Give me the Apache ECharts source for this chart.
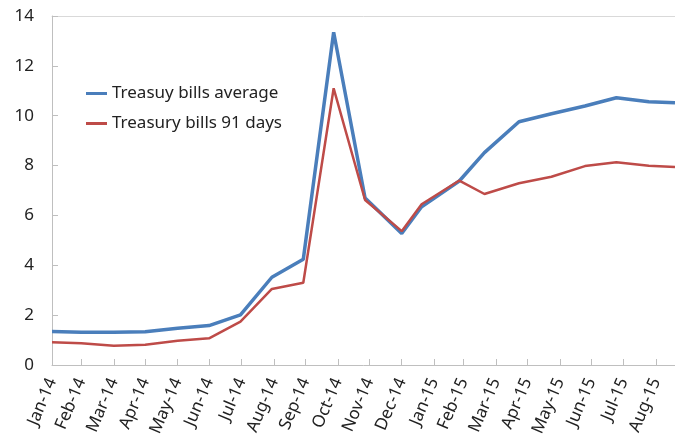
<!DOCTYPE html>
<html>
<head>
<meta charset="utf-8">
<script src="https://cdn.jsdelivr.net/npm/echarts@6/dist/echarts.min.js"></script>
<style>
  html, body { margin: 0; padding: 0; background: #fff; }
  #main { width: 675px; height: 444px; }
</style>
</head>
<body>
<div id="main"></div>
<script>
// month-end ticks, labelled with their own month
const tickDates = ['2014-01-31', '2014-02-28', '2014-03-31', '2014-04-30', '2014-05-31', '2014-06-30',
  '2014-07-31', '2014-08-31', '2014-09-30', '2014-10-31', '2014-11-30', '2014-12-31',
  '2015-01-31', '2015-02-28', '2015-03-31', '2015-04-30', '2015-05-31', '2015-06-30',
  '2015-07-31', '2015-08-31'];
const tickLabels = ['Jan-14', 'Feb-14', 'Mar-14', 'Apr-14', 'May-14', 'Jun-14', 'Jul-14', 'Aug-14',
  'Sep-14', 'Oct-14', 'Nov-14', 'Dec-14', 'Jan-15', 'Feb-15', 'Mar-15', 'Apr-15', 'May-15',
  'Jun-15', 'Jul-15', 'Aug-15'];

const pointDates = ['2014-01-31', '2014-02-28', '2014-03-31', '2014-04-30', '2014-05-31', '2014-06-30',
  '2014-07-30', '2014-08-29', '2014-09-28', '2014-10-27', '2014-11-26', '2014-12-31',
  '2015-01-19', '2015-02-24', '2015-03-20', '2015-04-22', '2015-05-23', '2015-06-24',
  '2015-07-24', '2015-08-24', '2015-09-18'];
const billsAverage = [1.34, 1.31, 1.31, 1.33, 1.47, 1.58, 2.01, 3.52, 4.24, 13.35, 6.70, 5.28,
  6.35, 7.38, 8.52, 9.76, 10.08, 10.39, 10.72, 10.56, 10.52];
const bills91 = [0.91, 0.87, 0.77, 0.81, 0.97, 1.07, 1.74, 3.05, 3.30, 11.10, 6.62, 5.37,
  6.45, 7.40, 6.86, 7.29, 7.55, 7.98, 8.13, 7.99, 7.94];

const axisStart = '2014-01-31';
const axisEnd = '2015-09-18';

// days since the first tick
function toDay(s) {
  return Math.round((Date.parse(s + 'T00:00:00Z') - Date.parse(axisStart + 'T00:00:00Z')) / 864e5);
}

const tickDays = tickDates.map(toDay);
const font = '"Noto Sans", "DejaVu Sans", sans-serif';
const axisGray = '#bfbfbf';

let chartDom = document.getElementById('main');
let myChart = echarts.init(chartDom);
let option = {
  animation: false,
  color: ['#4A7EBB', '#BE4B48'],
  grid: {left: 52, right: 0, top: 16, bottom: 79},
  legend: {
    orient: 'vertical',
    left: 81,
    top: 80,
    itemGap: 13,
    icon: 'rect',
    itemWidth: 21,
    itemHeight: 3,
    textStyle: {fontFamily: font, fontSize: 17, color: '#222'},
  },
  xAxis: [
    {
      type: 'value',
      min: 0,
      max: toDay(axisEnd),
      axisLine: {show: true, lineStyle: {color: axisGray, width: 1}},
      axisTick: {show: true, inside: true, length: 6, customValues: tickDays, lineStyle: {color: axisGray}},
      splitLine: {show: false},
      axisLabel: {
        customValues: tickDays,
        rotate: 67,
        margin: 14,
        fontFamily: font,
        fontSize: 17,
        color: '#222',
        formatter: function (val) {
          return tickLabels[tickDays.indexOf(Math.round(val))] || '';
        },
      },
    },
    {
      type: 'value',
      position: 'top',
      min: 0,
      max: toDay(axisEnd),
      axisLine: {show: true, lineStyle: {color: '#d9d9d9', width: 1}},
      axisTick: {show: false},
      axisLabel: {show: false},
      splitLine: {show: false},
    },
  ],
  yAxis: {
    type: 'value',
    min: 0,
    max: 14,
    interval: 2,
    axisLine: {show: true, lineStyle: {color: axisGray}},
    axisTick: {show: true, inside: true, length: 6, lineStyle: {color: axisGray}},
    splitLine: {show: false},
    axisLabel: {margin: 18, fontFamily: font, fontSize: 17, color: '#222'},
  },
  series: [
    {
      name: 'Treasuy bills average',
      type: 'line',
      symbol: 'none',
      lineStyle: {width: 3.5},
      data: pointDates.map((d, i) => [toDay(d), billsAverage[i]]),
    },
    {
      name: 'Treasury bills 91 days',
      type: 'line',
      symbol: 'none',
      lineStyle: {width: 2.5},
      data: pointDates.map((d, i) => [toDay(d), bills91[i]]),
    },
  ],
};
option && myChart.setOption(option);
</script>
</body>
</html>
